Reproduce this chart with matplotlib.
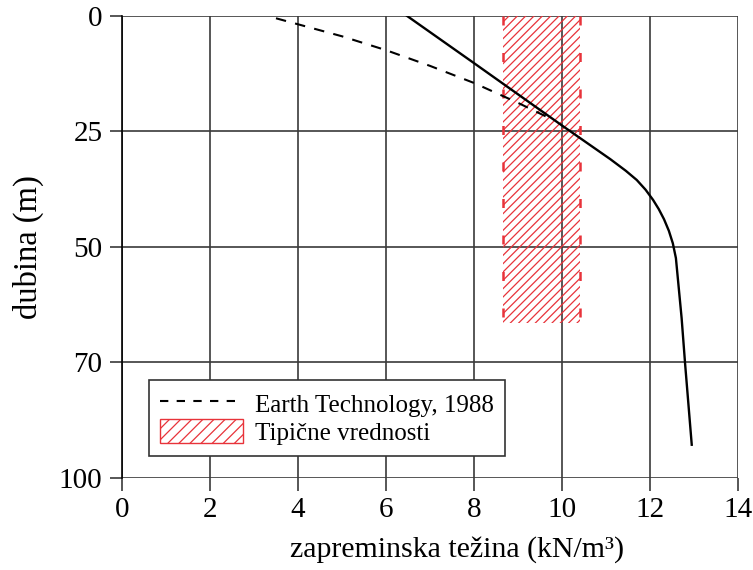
import matplotlib
matplotlib.use('Agg')
import matplotlib.pyplot as plt
from matplotlib.patches import Patch
from matplotlib.lines import Line2D

plt.rcParams['font.family'] = ['Liberation Serif', 'DejaVu Serif']
plt.rcParams['hatch.linewidth'] = 0.9

# depth axis is drawn on an even 0..100 scale, labels as in the original
depth_ticks = [0, 25, 50, 75, 100]
depth_labels = ['0', '25', '50', '70', '100']
x_ticks = [0, 2, 4, 6, 8, 10, 12, 14]

# solid curve (unit weight vs depth)
solid_x = [6.48, 8.0, 10.0, 11.1, 11.45, 11.7, 11.9, 12.07, 12.2, 12.32, 12.43, 12.52, 12.59, 12.64, 12.72, 12.80, 12.95]
solid_d = [0.0, 10.2, 23.7, 31.0, 33.5, 35.5, 37.6, 39.8, 41.8, 44.0, 46.5, 49.2, 52.4, 57.4, 65.4, 75.4, 92.8]

# dashed curve - Earth Technology, 1988
dash_x = [3.5, 4.0, 5.0, 6.0, 7.0, 8.0, 9.0, 9.8]
dash_d = [0.5, 1.8, 4.4, 7.4, 10.8, 14.5, 18.8, 22.5]

# typical values band
band_x0, band_x1 = 8.65, 10.4
band_d0, band_d1 = 0.0, 66.5

red = '#e8333a'

fig = plt.figure(figsize=(7.53, 5.70), dpi=100)
ax = fig.add_axes([0.162, 0.1614, 0.818, 0.8106])

ax.fill_betweenx([band_d0, band_d1], band_x0, band_x1, facecolor='none',
                 edgecolor=red, linewidth=0, hatch='////', zorder=2)
for bx in (band_x0, band_x1):
    ax.plot([bx, bx], [band_d0, band_d1], color=red, lw=1.8,
            dashes=(3.6, 11), zorder=3)

ax.plot(dash_x, dash_d, color='black', lw=1.5, dashes=(5, 4.5), zorder=4)
ax.plot(solid_x, solid_d, color='black', lw=1.7, zorder=4,
        solid_joinstyle='round')

ax.set_xlim(0, 14)
ax.set_ylim(100, 0)
ax.set_xticks(x_ticks)
ax.set_xticklabels([str(v) for v in x_ticks])
ax.set_yticks(depth_ticks)
ax.set_yticklabels(depth_labels)
ax.grid(True, color='#3a3a3a', lw=1.2)
ax.set_axisbelow(True)
for side in ['top', 'right', 'bottom']:
    ax.spines[side].set_visible(False)
ax.spines['left'].set_color('black')
ax.spines['left'].set_linewidth(1.2)
ax.tick_params(direction='out', length=9, width=1.2, color='#3a3a3a',
               labelsize=21, pad=5)

ax.set_xlabel('zapreminska težina (kN/m³)', fontsize=21.5)
ax.xaxis.set_label_coords(0.544, -0.125)
ax.set_ylabel('dubina (m)', fontsize=23.5, labelpad=11)

handles = [Line2D([], [], color='black', lw=1.5, dashes=(4, 4)),
           Patch(facecolor='white', edgecolor=red, lw=1.0, hatch='///')]
leg = ax.legend(handles, ['Earth Technology, 1988', 'Tipične vrednosti'],
                loc='lower left', bbox_to_anchor=(0.044, 0.048), fontsize=18,
                fancybox=False, framealpha=1, edgecolor='#333333',
                handlelength=3.3, handleheight=1.1, borderpad=0.45,
                labelspacing=0.1, handletextpad=0.5, borderaxespad=0)
leg.get_frame().set_linewidth(1.2)

fig.savefig('out.png', dpi=100)
